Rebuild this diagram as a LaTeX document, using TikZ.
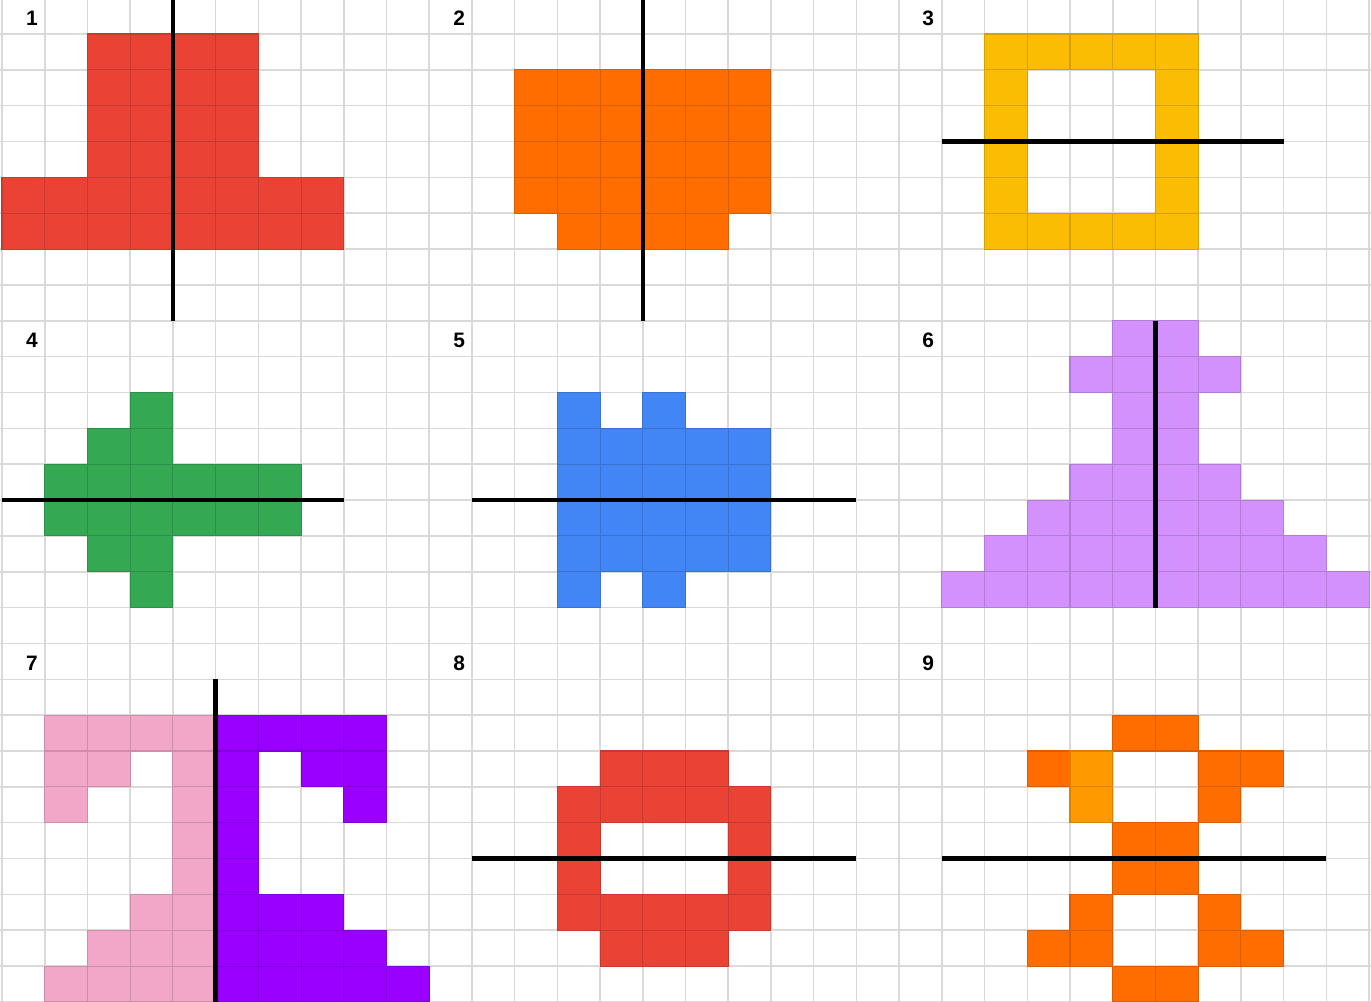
\documentclass[tikz,border=0pt]{standalone}
\usepackage{fontspec}
\setmainfont{Liberation Sans}
\definecolor{gridgray}{HTML}{D9D9D9}
\definecolor{cRed}{HTML}{EA4335}
\definecolor{cOrange}{HTML}{FF6D01}
\definecolor{cLOrange}{HTML}{FF9900}
\definecolor{cYellow}{HTML}{FBBC04}
\definecolor{cGreen}{HTML}{34A853}
\definecolor{cBlue}{HTML}{4285F4}
\definecolor{cLPurple}{HTML}{D291FC}
\definecolor{cPink}{HTML}{F2A7C8}
\definecolor{cPurple}{HTML}{9900FF}
\tikzset{
  gridline/.style={draw=gridgray, line width=0.9pt},
  axisline/.style={draw=black, line width=2.6pt},
  lbl/.style={font=\fontsize{11.9}{12}\selectfont\bfseries, inner sep=0pt, anchor=center},
  cellbox/.style={line width=0.6pt},
}
\newcommand\mycell[3]{\filldraw[cellbox, fill=#1, draw=#1!85!black] (#2,#3) rectangle ++(1,1);}
\newcommand\myblock[5]{\foreach \cc in {#2,...,#3}{\foreach \rr in {#4,...,#5}{\mycell{#1}{\cc}{\rr}}}}
\begin{document}
\begin{tikzpicture}[x=0.8544cm, y=-0.717cm]
\useasboundingbox[fill=white] (-0.0468,0.0516) rectangle (32.046,28.0);
% grid
\foreach \c in {0,...,32} {\draw[gridline] (\c,0.0516) -- (\c,28);}
\foreach \r in {1,...,28} {\draw[gridline] (-0.0468,\r) -- (32.046,\r);}
% panel 1
\myblock{cRed}{2}{5}{1}{4}
\myblock{cRed}{0}{7}{5}{6}
\draw[axisline] (4,0.0516) -- (4,9);
% panel 2
\myblock{cOrange}{12}{17}{2}{5}
\myblock{cOrange}{13}{16}{6}{6}
\draw[axisline] (15,0.0516) -- (15,9);
% panel 3
\myblock{cYellow}{23}{27}{1}{1}
\myblock{cYellow}{23}{27}{6}{6}
\myblock{cYellow}{23}{23}{2}{5}
\myblock{cYellow}{27}{27}{2}{5}
\draw[axisline] (22,4) -- (30,4);
% panel 4
\mycell{cGreen}{3}{11}
\myblock{cGreen}{2}{3}{12}{12}
\myblock{cGreen}{1}{6}{13}{14}
\myblock{cGreen}{2}{3}{15}{15}
\mycell{cGreen}{3}{16}
\draw[axisline] (0,14) -- (8,14);
% panel 5
\mycell{cBlue}{13}{11}
\mycell{cBlue}{15}{11}
\myblock{cBlue}{13}{17}{12}{15}
\mycell{cBlue}{13}{16}
\mycell{cBlue}{15}{16}
\draw[axisline] (11,14) -- (20,14);
% panel 6
\myblock{cLPurple}{26}{27}{9}{9}
\myblock{cLPurple}{25}{28}{10}{10}
\myblock{cLPurple}{26}{27}{11}{12}
\myblock{cLPurple}{25}{28}{13}{13}
\myblock{cLPurple}{24}{29}{14}{14}
\myblock{cLPurple}{23}{30}{15}{15}
\myblock{cLPurple}{22}{31}{16}{16}
\draw[axisline] (27,9) -- (27,17);
% panel 7 pink
\myblock{cPink}{1}{4}{20}{20}
\myblock{cPink}{1}{2}{21}{21}
\mycell{cPink}{4}{21}
\mycell{cPink}{1}{22}
\mycell{cPink}{4}{22}
\myblock{cPink}{4}{4}{23}{24}
\myblock{cPink}{3}{4}{25}{25}
\myblock{cPink}{2}{4}{26}{26}
\myblock{cPink}{1}{4}{27}{27}
% panel 7 purple
\myblock{cPurple}{5}{8}{20}{20}
\mycell{cPurple}{5}{21}
\myblock{cPurple}{7}{8}{21}{21}
\mycell{cPurple}{5}{22}
\mycell{cPurple}{8}{22}
\myblock{cPurple}{5}{5}{23}{24}
\myblock{cPurple}{5}{7}{25}{25}
\myblock{cPurple}{5}{8}{26}{26}
\myblock{cPurple}{5}{9}{27}{27}
\draw[axisline] (5,19) -- (5,28);
% panel 8
\myblock{cRed}{14}{16}{21}{21}
\myblock{cRed}{13}{17}{22}{22}
\myblock{cRed}{13}{13}{23}{24}
\myblock{cRed}{17}{17}{23}{24}
\myblock{cRed}{13}{17}{25}{25}
\myblock{cRed}{14}{16}{26}{26}
\draw[axisline] (11,24) -- (20,24);
% panel 9
\myblock{cOrange}{26}{27}{20}{20}
\mycell{cOrange}{24}{21}
\myblock{cLOrange}{25}{25}{21}{22}
\myblock{cOrange}{28}{29}{21}{21}
\mycell{cOrange}{28}{22}
\myblock{cOrange}{26}{27}{23}{24}
\mycell{cOrange}{25}{25}
\mycell{cOrange}{28}{25}
\myblock{cOrange}{24}{25}{26}{26}
\myblock{cOrange}{28}{29}{26}{26}
\myblock{cOrange}{26}{27}{27}{27}
\draw[axisline] (22,24) -- (31,24);
% labels
\node[lbl] (l1) at (0.7,0.55) {1};
\node[lbl] (l2) at (10.7,0.55) {2};
\node[lbl] (l3) at (21.68,0.55) {3};
\node[lbl] (l4) at (0.7,9.54) {4};
\node[lbl] (l5) at (10.7,9.54) {5};
\node[lbl] (l6) at (21.68,9.54) {6};
\node[lbl] (l7) at (0.7,18.55) {7};
\node[lbl] (l8) at (10.7,18.55) {8};
\node[lbl] (l9) at (21.68,18.55) {9};
\end{tikzpicture}
\end{document}
